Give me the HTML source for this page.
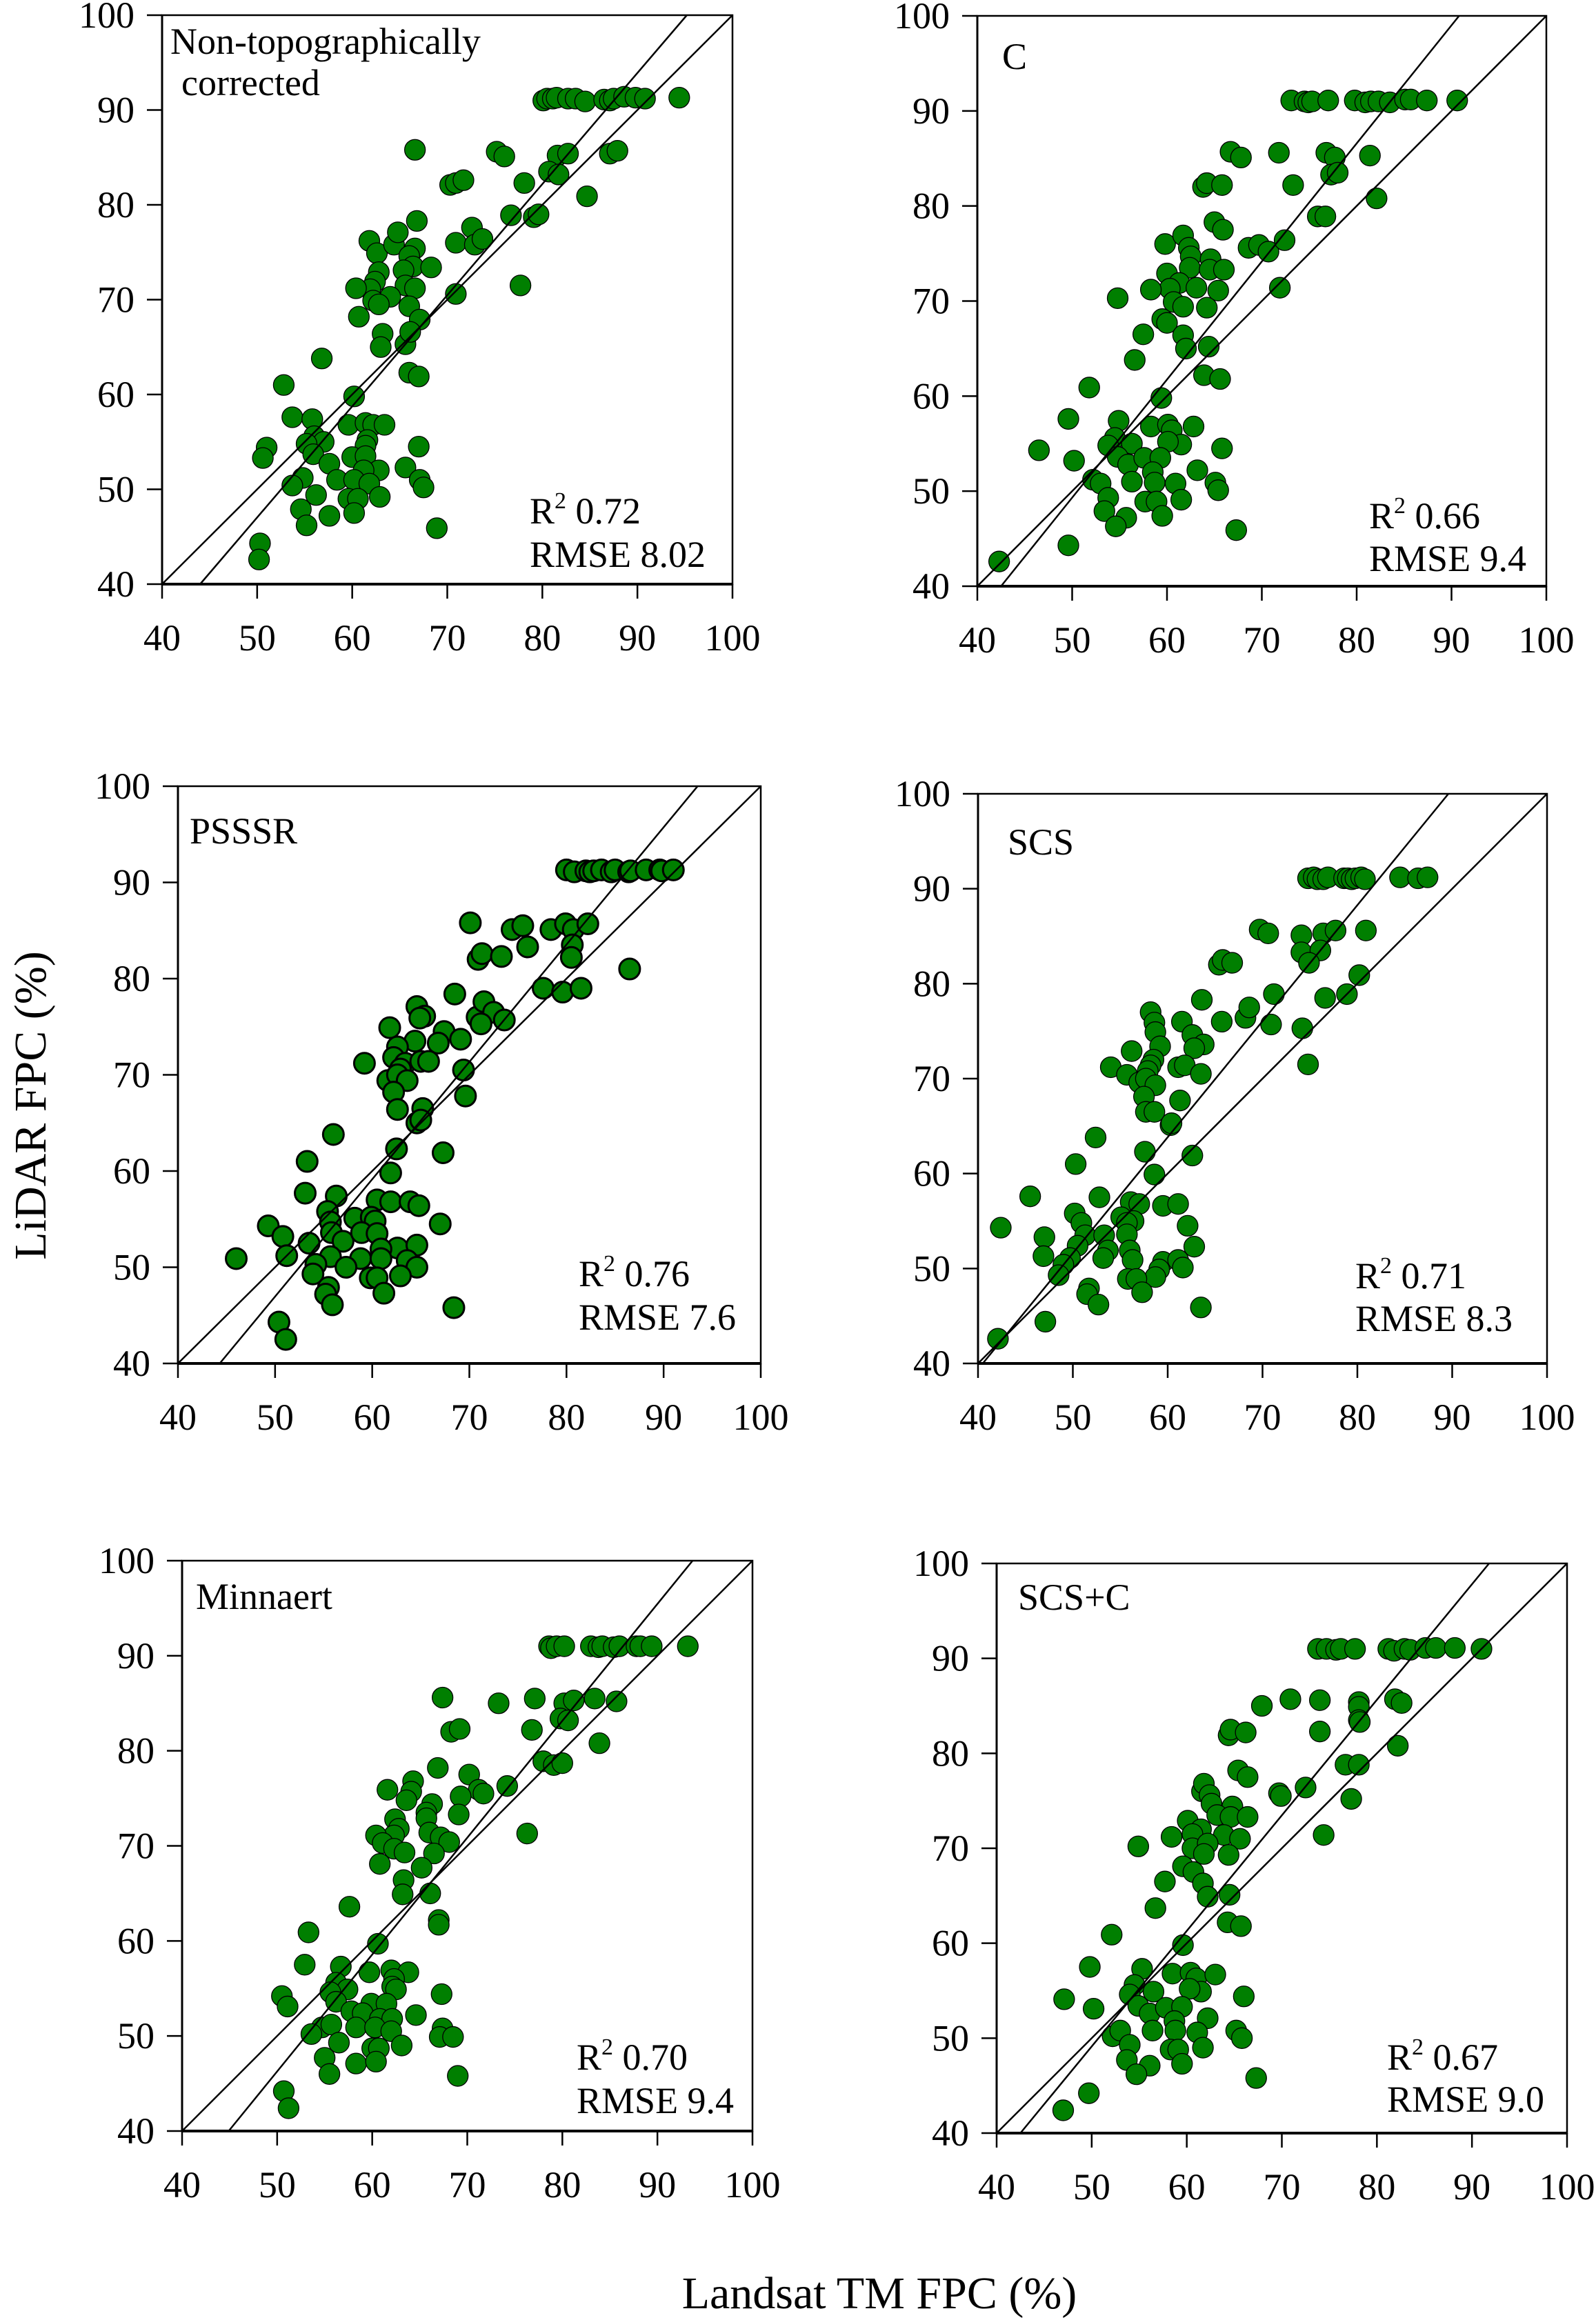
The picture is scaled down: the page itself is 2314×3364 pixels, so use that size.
<!DOCTYPE html>
<html><head><meta charset="utf-8"><style>
html,body{margin:0;padding:0;background:#fff;}
svg{display:block;font-family:"Liberation Serif",serif;}
</style></head><body>
<svg id="fig" width="2314" height="3364" viewBox="0 0 2314 3364" xmlns="http://www.w3.org/2000/svg">
<text x="0" y="0" font-size="66" text-anchor="middle" transform="translate(66,1603) rotate(-90)">LiDAR FPC (%)</text>
<text x="1275" y="3347" font-size="66" text-anchor="middle">Landsat TM FPC (%)</text>
</svg>
<script>
const ticks = [40,50,60,70,80,90,100];
const tickLabels = ["40","50","60","70","80","90","100"];
const titles = ["Non-topographically|corrected","C","PSSSR","SCS","Minnaert","SCS+C"];
const r2Values = ["0.72","0.66","0.76","0.71","0.70","0.67"];
const rmseValues = ["8.02","9.4","7.6","8.3","9.4","9.0"];
const regX0 = [44.0,42.5,44.3,40.5,44.9,42.5];
const regX1 = [95.2,90.8,93.5,89.6,93.7,91.8];

const p1x=[80.1,80.5,81.1,81.5,82.7,83.5,84.5,86.5,87.1,87.5,88.6,89.8,90.8,94.4,66.6,75.2,76.0,81.6,82.7,87.1,87.9,80.7,81.7,70.3,70.9,71.7,78.1,84.7,76.7,79.1,79.6,66.8,61.8,62.6,64.4,64.8,66.6,66.0,66.4,65.4,68.3,70.9,72.6,72.9,73.7,62.8,62.4,61.9,60.4,65.6,66.6,64.0,62.2,62.8,66.0,70.9,77.7,60.7,67.1,63.2,63.0,65.6,66.1,56.8,66.0,67.0,52.8,60.2,53.7,55.8,59.6,61.4,62.2,63.4,56.0,57.0,61.6,61.4,67.0,51.0,50.6,55.2,55.9,57.6,60.0,61.4,62.8,61.2,65.6,67.1,67.5,54.8,53.7,58.4,60.2,61.8,56.2,59.6,60.6,62.9,54.6,57.6,60.2,55.2,68.9,50.3,50.2];
const p1y=[91.0,91.2,91.2,91.3,91.2,91.2,90.9,91.1,91.0,91.2,91.4,91.3,91.2,91.3,85.8,85.6,85.1,85.2,85.4,85.4,85.7,83.5,83.2,82.1,82.3,82.6,82.3,80.9,78.9,78.7,79.0,78.3,76.2,74.9,75.8,77.1,75.4,74.6,73.5,73.1,73.4,76.0,77.6,75.8,76.4,72.9,71.9,71.1,71.2,71.5,71.2,70.3,69.9,69.5,69.3,70.6,71.5,68.2,67.9,66.4,65.0,65.3,66.6,63.8,62.3,61.9,61.0,59.8,57.6,57.4,56.8,57.0,56.8,56.8,55.6,55.0,55.2,54.6,54.5,54.4,53.3,54.8,53.7,52.7,53.4,53.5,52.0,52.0,52.3,51.0,50.2,51.2,50.4,51.0,51.0,50.6,49.4,49.0,49.0,49.2,47.9,47.2,47.5,46.2,45.9,44.3,42.6];

const p2x=[73.1,74.5,74.9,75.3,77.0,79.8,80.9,81.5,82.3,83.5,85.1,85.7,87.4,90.6,66.7,67.8,71.8,76.8,77.7,81.4,77.3,78.0,63.8,64.2,65.8,73.3,82.1,75.9,76.7,65.0,65.9,59.8,61.7,62.3,62.5,62.4,68.6,69.7,70.7,72.4,64.6,64.5,66.0,60.0,61.3,60.3,63.1,65.4,58.3,54.8,60.7,61.7,64.2,71.9,59.5,60.0,57.5,61.7,62.0,64.4,56.6,63.9,65.6,51.8,59.4,49.6,54.9,58.3,60.1,60.5,62.8,54.5,53.8,56.3,61.5,60.1,65.8,46.5,50.2,54.8,55.9,57.6,59.3,58.5,63.2,52.2,53.0,56.3,58.7,60.9,65.1,65.4,53.8,57.7,58.9,61.5,53.4,55.7,59.5,54.6,67.3,49.6,42.3];
const p2y=[91.1,91.0,90.9,91.0,91.1,91.1,90.9,91.0,91.0,90.9,91.2,91.2,91.1,91.1,85.7,85.1,85.6,85.6,85.1,85.3,83.3,83.5,82.0,82.4,82.2,82.2,80.8,78.9,78.9,78.3,77.5,76.0,76.9,75.6,74.7,73.5,75.6,75.9,75.2,76.4,74.4,73.3,73.3,72.9,71.9,71.3,71.4,71.1,71.2,70.3,69.9,69.4,69.3,71.4,68.1,67.7,66.5,66.4,65.0,65.2,63.8,62.2,61.8,60.9,59.8,57.6,57.4,56.8,57.0,56.4,56.8,55.6,54.8,55.0,54.9,55.2,54.5,54.3,53.2,53.6,52.8,53.5,53.5,52.0,52.2,51.2,50.8,51.0,50.9,50.8,50.9,50.1,49.3,48.9,48.9,49.1,47.9,47.2,47.4,46.3,45.9,44.3,42.6];

const p3x=[80.0,80.8,82.0,82.4,82.8,83.6,84.6,85.0,86.4,86.6,88.2,89.6,89.8,91.0,70.1,74.4,75.5,76.0,78.4,79.9,80.7,82.2,80.6,80.5,70.9,71.3,73.3,86.5,77.6,79.6,81.5,68.5,64.6,65.4,64.9,70.8,71.5,72.5,73.6,71.2,61.8,67.4,66.8,69.1,64.4,62.6,62.2,63.4,62.9,65.0,65.8,59.2,69.4,61.6,62.6,63.6,62.2,69.6,62.6,65.2,64.6,65.0,56.0,62.5,67.3,53.3,61.9,53.1,56.3,60.5,61.9,63.9,64.8,55.4,58.2,59.9,60.3,67.0,49.3,50.8,55.7,55.8,57.0,58.9,60.5,53.5,62.6,64.6,60.9,51.2,46.0,55.7,58.8,57.3,60.9,63.6,64.6,54.2,53.9,59.8,60.5,62.9,55.5,55.2,61.2,55.9,68.4,50.4,51.1];
const p3y=[91.3,91.1,91.2,91.1,91.2,91.3,91.1,91.3,91.1,91.2,91.3,91.3,91.2,91.3,85.8,85.1,85.5,83.3,85.1,85.7,85.1,85.7,83.5,82.2,82.0,82.6,82.3,81.0,79.0,78.6,79.0,78.4,77.1,76.1,75.9,76.0,77.6,76.5,75.7,75.3,74.9,74.5,73.3,73.7,73.5,72.9,71.8,71.2,70.6,71.4,71.4,71.2,70.5,69.4,70.0,69.4,68.2,67.8,66.4,66.5,65.0,65.3,63.8,62.3,61.9,61.0,59.8,57.7,57.4,57.0,56.8,56.8,56.4,55.8,55.1,55.2,54.8,54.5,54.3,53.2,54.7,53.6,52.7,53.6,53.5,52.5,52.0,52.3,51.9,51.2,50.9,51.1,50.9,50.0,50.9,50.7,50.0,50.3,49.3,48.9,48.9,49.1,47.9,47.2,47.3,46.1,45.8,44.3,42.5];

const p4x=[74.8,75.4,75.8,76.4,76.9,78.6,79.0,79.4,79.8,80.4,80.8,84.5,86.4,87.4,69.7,70.6,74.1,76.4,77.7,80.9,74.1,76.1,74.9,65.4,65.8,66.8,80.2,71.2,76.6,78.9,63.6,58.2,58.6,58.7,59.2,61.5,62.6,63.8,62.8,65.7,68.2,68.6,70.9,74.2,56.2,58.5,58.2,57.9,54.0,55.7,61.1,61.8,63.5,74.8,57.0,57.7,58.7,57.5,61.3,57.7,58.6,60.3,60.4,52.4,57.6,62.6,50.3,58.6,45.5,52.8,56.1,57.0,59.5,61.1,50.2,55.1,56.4,55.7,50.9,62.1,42.4,47.0,51.3,53.3,55.7,50.5,53.7,56.0,62.8,46.9,49.7,49.0,53.2,56.3,59.5,61.1,61.6,59.1,48.5,58.7,55.8,56.7,51.7,51.5,57.3,52.7,63.5,47.1,42.1];
const p4y=[91.1,91.2,91.0,91.0,91.2,91.1,91.1,91.0,91.1,91.2,91.0,91.2,91.1,91.2,85.7,85.3,85.1,85.3,85.6,85.6,83.3,83.5,82.2,82.0,82.5,82.2,80.9,78.9,78.5,78.9,78.3,77.0,75.9,74.9,73.4,76.0,74.6,73.6,73.2,76.0,76.4,77.5,75.7,75.3,72.9,72.0,71.4,70.8,71.2,70.4,71.2,71.4,70.5,71.5,69.6,70.0,69.3,68.1,67.7,66.5,66.5,65.1,65.3,63.8,62.3,61.9,61.0,59.9,57.6,57.5,57.0,56.8,56.6,56.8,55.8,55.4,55.0,54.8,54.8,54.5,54.3,53.3,53.5,53.5,53.6,52.4,51.9,51.9,52.3,51.3,51.1,50.4,51.1,50.9,50.7,50.9,50.1,49.9,49.3,49.1,48.9,48.9,47.9,47.3,47.5,46.2,45.9,44.4,42.6];

const p5x=[78.6,78.8,79.4,80.2,83.0,83.8,84.2,85.4,86.0,87.8,88.2,89.4,93.2,67.4,73.3,77.1,80.2,81.2,83.4,85.7,79.8,80.6,76.8,68.3,69.2,83.9,78.0,79.1,80.0,66.9,70.2,71.2,71.7,74.2,69.3,69.1,61.6,64.3,64.1,63.6,66.3,65.7,65.7,62.4,62.8,62.3,60.4,61.1,66.0,67.2,68.1,62.3,63.4,66.5,60.8,65.2,63.3,63.2,66.1,76.3,57.6,67.0,67.0,53.3,60.6,52.9,56.7,59.7,62.0,63.8,62.3,56.2,57.4,55.6,62.1,62.5,67.3,50.5,51.1,56.2,57.8,59.9,61.5,59.0,60.8,62.1,64.6,54.7,55.7,53.6,58.3,60.3,62.0,67.4,67.1,68.5,56.5,60.0,60.7,63.1,55.0,58.3,60.4,55.5,69.0,50.7,51.2];
const p5y=[91.0,90.8,91.0,91.0,91.0,90.9,91.0,90.9,91.0,91.0,91.0,91.0,91.0,85.6,85.0,85.5,85.0,85.3,85.5,85.2,83.4,83.2,82.2,82.0,82.3,80.8,78.9,78.5,78.7,78.2,77.5,75.9,75.5,76.3,75.2,73.3,75.9,76.8,75.7,74.8,74.4,73.5,72.9,72.8,71.8,71.1,71.1,70.3,71.4,70.9,70.4,69.7,69.3,69.2,68.1,67.7,66.4,64.9,65.0,71.3,63.6,62.2,61.7,60.9,59.7,57.5,57.3,56.7,56.9,56.7,56.0,55.6,54.9,54.6,55.2,54.9,54.4,54.2,53.1,53.6,52.6,53.4,53.4,52.4,51.8,51.8,52.2,50.9,51.2,50.2,50.9,50.9,50.5,50.8,49.9,49.9,49.3,48.7,48.7,49.0,47.7,47.1,47.3,46.0,45.8,44.2,42.4];

const p6x=[73.8,74.7,75.7,76.2,77.7,81.2,81.8,82.9,83.5,85.1,86.2,88.2,91.0,67.9,70.9,74.0,78.1,78.1,81.9,82.6,78.1,78.2,64.4,64.6,66.2,74.0,82.2,76.7,78.1,65.4,66.4,69.7,69.9,72.5,77.3,61.6,61.8,62.4,62.6,64.8,63.2,64.6,66.4,60.1,61.5,60.6,58.4,63.9,65.6,54.9,60.6,62.2,61.8,64.4,74.4,59.6,60.7,57.7,61.7,62.2,64.5,56.7,64.3,65.7,52.1,59.6,49.8,55.3,58.5,60.4,61.0,63.0,54.5,54.0,56.5,61.5,60.3,66.0,47.1,50.2,54.9,56.1,57.8,59.5,58.7,62.2,52.2,53.0,56.4,58.8,61.1,65.2,65.8,54.0,58.3,59.1,61.7,53.7,56.1,59.5,54.7,67.3,49.7,47.0];
const p6y=[91.0,91.0,90.9,91.0,91.0,91.0,90.8,91.0,90.9,91.1,91.1,91.1,91.0,85.0,85.7,85.6,85.4,84.9,85.7,85.3,83.5,83.3,81.9,82.5,82.2,82.3,80.8,78.8,78.8,78.2,77.5,75.8,75.5,76.4,75.2,76.0,76.8,75.6,74.7,74.4,73.5,73.3,73.3,72.9,72.0,71.5,71.2,71.4,71.0,70.2,70.0,70.5,69.4,69.3,71.4,68.1,67.5,66.5,66.3,64.9,65.1,63.7,62.2,61.8,60.9,59.8,57.5,57.3,56.8,56.9,56.3,56.7,55.6,54.6,54.9,54.9,55.2,54.4,54.1,53.1,53.4,52.6,53.2,53.3,51.8,52.1,50.2,50.8,50.8,50.8,50.6,50.8,50.0,49.3,48.8,48.8,49.0,47.7,47.1,47.3,46.2,45.8,44.2,42.4];

const seriesX=[p1x,p2x,p3x,p4x,p5x,p6x];
const seriesY=[p1y,p2y,p3y,p4y,p5y,p6y];

/* layout (pixels) */
const boxes=[
 {l:235,r:1062,t:22,b:847,tx:12,ty:56,rx:533,rb:88,mb:25},
 {l:1417,r:2242,t:23,b:850,tx:36,ty:77,rx:568,rb:84,mb:22},
 {l:258,r:1103,t:1140,b:1977,tx:17,ty:83,rx:581,rb:112,mb:49},
 {l:1418,r:2243,t:1151,b:1977,tx:43,ty:88,rx:547,rb:109,mb:47},
 {l:264,r:1091,t:2263,b:3090,tx:20,ty:70,rx:572,rb:89,mb:26},
 {l:1445,r:2272,t:2267,b:3093,tx:31,ty:67,rx:566,rb:92,mb:31}
];
const NS="http://www.w3.org/2000/svg";
const svg=document.getElementById('fig');
function mk(tag,attrs,parent){const e=document.createElementNS(NS,tag);for(const k in attrs)e.setAttribute(k,attrs[k]);(parent||svg).appendChild(e);return e;}

boxes.forEach((B,i)=>{
  const g=mk('g',{});
  
  
  const sx=v=>B.l+(v-40)/60*(B.r-B.l);
  const sy=v=>B.b-(v-40)/60*(B.b-B.t);
  // points
  const xs=seriesX[i], ys=seriesY[i];
  const n=Math.min(xs.length,ys.length);
  const sw = i===2?3:1.3;
  for(let k=0;k<n;k++){
    const c=mk('circle',{cx:sx(xs[k]),cy:sy(ys[k]),r:15,fill:'#007f00',stroke:'#000','stroke-width':sw},g);
    
    
  }
  // 1:1 line
  const l1=mk('line',{x1:sx(40),y1:sy(40),x2:sx(100),y2:sy(100),stroke:'#000','stroke-width':2.5},g);
  
  
  const l2=mk('line',{x1:sx(regX0[i]),y1:sy(40),x2:sx(regX1[i]),y2:sy(100),stroke:'#000','stroke-width':2.5},g);
  
  
  // frame
  const fr=mk('rect',{x:B.l,y:B.t,width:B.r-B.l,height:B.b-B.t,fill:'none',stroke:'#000','stroke-width':2.5},g);
  
  
  const ax=mk('line',{x1:B.l,y1:B.b,x2:B.r,y2:B.b,stroke:'#000','stroke-width':4},g);
  
  
  const ay=mk('line',{x1:B.l,y1:B.t,x2:B.l,y2:B.b,stroke:'#000','stroke-width':3},g);
  
  
  ticks.forEach((t,j)=>{
    const xt=mk('line',{x1:sx(t),y1:B.b,x2:sx(t),y2:B.b+21,stroke:'#000','stroke-width':2.5},g);
    
    
    const yt=mk('line',{x1:B.l-22,y1:sy(t),x2:B.l,y2:sy(t),stroke:'#000','stroke-width':2.5},g);
    
    
    const xl=mk('text',{x:sx(t),y:B.b+96,'font-size':54,'text-anchor':'middle'},g);
    xl.textContent=tickLabels[j];
    
    
    const yl=mk('text',{x:B.l-40,y:sy(t)+18,'font-size':54,'text-anchor':'end'},g);
    yl.textContent=tickLabels[j];
    
    
  });
  // title
  const parts=titles[i].split('|');
  parts.forEach((p,pi)=>{
    const tt=mk('text',{x:B.l+B.tx+(pi?16:0),y:B.t+B.ty+pi*60,'font-size':54},g);
    tt.textContent=p;
    
    
  });
  // stats
  const r2=mk('text',{x:B.l+B.rx,y:B.b-B.rb,'font-size':54},g);
  
  
  const a=mk('tspan',{},r2); a.textContent='R';
  const s=mk('tspan',{'font-size':34,dy:-22},r2); s.textContent='2';
  const v=mk('tspan',{dy:22},r2); v.textContent=' '+r2Values[i];
  const rm=mk('text',{x:B.l+B.rx,y:B.b-B.mb,'font-size':54},g);
  rm.textContent='RMSE '+rmseValues[i];
  
  
});
</script>
</body></html>
